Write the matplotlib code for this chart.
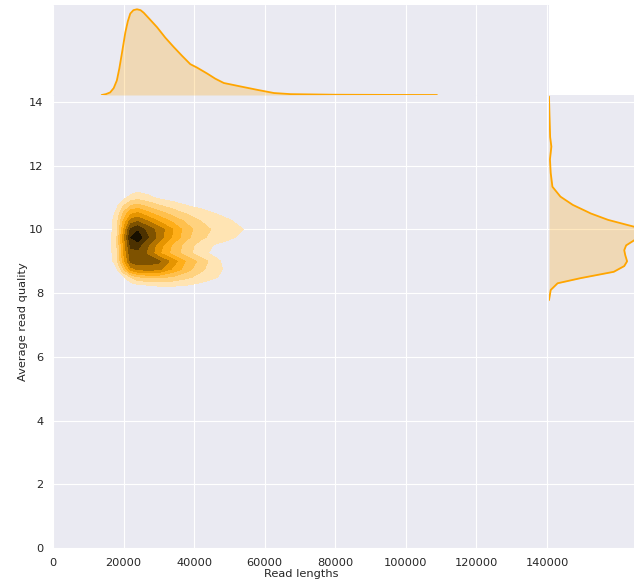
import colorsys

import matplotlib
matplotlib.use("Agg")
import matplotlib.pyplot as plt
import numpy as np
import seaborn as sns
from matplotlib.colors import LinearSegmentedColormap

# joint density grid (relative)
grid_x = [12000, 16000, 18000, 20000, 22000, 24000, 27000, 30000, 34000, 38000, 42000, 46000, 50000, 54000, 58000]
grid_y = [8.0, 8.25, 8.5, 8.75, 9.0, 9.25, 9.5, 9.75, 10.0, 10.25, 10.5, 10.75, 11.0, 11.25]
density = [
    [0, 0, 0, 0, 0.01, 0.02, 0.03, 0.03, 0.03, 0.02, 0.02, 0.01, 0, 0, 0],
    [0, 0, 0, 0.02, 0.05, 0.08, 0.10, 0.11, 0.11, 0.10, 0.07, 0.04, 0.02, 0, 0],
    [0, 0, 0.03, 0.08, 0.20, 0.28, 0.32, 0.32, 0.28, 0.22, 0.16, 0.11, 0.05, 0.01, 0],
    [0, 0.02, 0.08, 0.30, 0.55, 0.62, 0.64, 0.62, 0.48, 0.34, 0.22, 0.14, 0.06, 0.01, 0],
    [0, 0.05, 0.15, 0.45, 0.72, 0.76, 0.75, 0.72, 0.55, 0.38, 0.26, 0.13, 0.05, 0.01, 0],
    [0, 0.06, 0.17, 0.50, 0.76, 0.77, 0.68, 0.52, 0.36, 0.24, 0.13, 0.07, 0.04, 0.02, 0],
    [0, 0.07, 0.18, 0.52, 0.82, 0.84, 0.70, 0.55, 0.38, 0.25, 0.15, 0.09, 0.05, 0.03, 0],
    [0, 0.07, 0.18, 0.55, 0.90, 0.97, 0.80, 0.66, 0.48, 0.32, 0.22, 0.16, 0.12, 0.07, 0.02],
    [0, 0.06, 0.16, 0.50, 0.82, 0.88, 0.76, 0.66, 0.50, 0.34, 0.24, 0.18, 0.14, 0.10, 0.03],
    [0, 0.06, 0.15, 0.42, 0.65, 0.70, 0.60, 0.50, 0.38, 0.28, 0.20, 0.15, 0.11, 0.07, 0.02],
    [0, 0.05, 0.12, 0.32, 0.48, 0.52, 0.43, 0.35, 0.26, 0.19, 0.14, 0.10, 0.07, 0.04, 0.01],
    [0, 0.03, 0.08, 0.20, 0.30, 0.33, 0.27, 0.21, 0.15, 0.10, 0.07, 0.05, 0.03, 0.01, 0],
    [0, 0.01, 0.03, 0.07, 0.13, 0.16, 0.12, 0.08, 0.05, 0.03, 0.02, 0.01, 0, 0, 0],
    [0, 0, 0, 0.02, 0.05, 0.07, 0.06, 0.04, 0.02, 0, 0, 0, 0, 0, 0],
]

# marginal densities (relative heights)
length_x = [13800, 15000, 16200, 17200, 18100, 18800, 19500, 20500, 21200, 21900, 22800, 23800,
            24800, 25700, 27500, 29500, 31800, 34200, 36500, 38900, 40800, 43700, 46000, 48400,
            53100, 57900, 62600, 67300, 80000, 95000, 108800]
length_dens = [0, 0.01, 0.03, 0.08, 0.17, 0.31, 0.48, 0.73, 0.86, 0.95, 0.99, 1.0,
               0.99, 0.96, 0.88, 0.79, 0.67, 0.56, 0.46, 0.36, 0.32, 0.25, 0.19, 0.14,
               0.10, 0.06, 0.023, 0.01, 0.003, 0.001, 0]

quality_y = [7.78, 8.1, 8.31, 8.47, 8.67, 8.85, 9.0, 9.2, 9.35, 9.5, 9.67, 9.9, 10.08, 10.3,
             10.5, 10.6, 10.77, 11.03, 11.34, 11.77, 12.2, 12.6, 12.9, 13.6, 14.17]
quality_dens = [0, 0.018, 0.09, 0.33, 0.68, 0.79, 0.82, 0.80, 0.79, 0.81, 0.90, 1.0, 0.90, 0.62,
                0.44, 0.37, 0.25, 0.12, 0.036, 0.018, 0.01, 0.025, 0.012, 0.005, 0]

color = "orange"
text_color = "#262626"

sns.set_style("darkgrid")
plt.rcParams["font.family"] = ["DejaVu Sans"]

W, H = 634, 584
fig = plt.figure(figsize=(W / 100, H / 100), dpi=100)
ax = fig.add_axes([53 / W, 36 / H, 496 / W, 453 / H])
ax_top = fig.add_axes([53 / W, 489 / H, 496 / W, 90 / H], sharex=ax)
ax_right = fig.add_axes([549 / W, 36 / H, 100 / W, 453 / H], sharey=ax)

# colormap as in seaborn's old jointplot: white -> colour -> black
h, l, s = colorsys.rgb_to_hls(*matplotlib.colors.to_rgb(color))
cmap = LinearSegmentedColormap.from_list(
    "joint", [colorsys.hls_to_rgb(h, lv, s) for lv in np.linspace(1, 0, 12)]
)

ax.contourf(grid_x, grid_y, np.array(density), levels=np.linspace(0.1, 1.0, 10),
            cmap=cmap, vmin=0, vmax=1, extend="max")

ax.set_xlim(0, 140550)
ax.set_ylim(0, 14.22)
ax.set_xticks(np.arange(0, 140001, 20000))
ax.set_yticks(np.arange(0, 15, 2))
ax.tick_params(labelsize=8.2, colors=text_color, pad=3.5)
ax.set_xlabel("Read lengths", fontsize=8.2, color=text_color, labelpad=1)
ax.set_ylabel("Average read quality", fontsize=8.2, color=text_color, labelpad=0.5)

ax_top.fill_between(length_x, 0, length_dens, color=color, alpha=0.25, lw=0)
ax_top.plot(length_x, length_dens, color=color, lw=1.3)
ax_top.set_ylim(0, 1.05)
ax_top.yaxis.grid(False)
plt.setp(ax_top.get_xticklabels(), visible=False)
plt.setp(ax_top.get_yticklabels(), visible=False)
ax_top.tick_params(length=0)

ax_right.fill_betweenx(quality_y, 0, quality_dens, color=color, alpha=0.25, lw=0)
ax_right.plot(quality_dens, quality_y, color=color, lw=1.3)
ax_right.set_xlim(0, 1.05)
ax_right.xaxis.grid(False)
plt.setp(ax_right.get_xticklabels(), visible=False)
plt.setp(ax_right.get_yticklabels(), visible=False)
ax_right.tick_params(length=0)

for a in (ax, ax_top, ax_right):
    for sp in a.spines.values():
        sp.set_visible(False)

fig.savefig("out.png", dpi=100)
